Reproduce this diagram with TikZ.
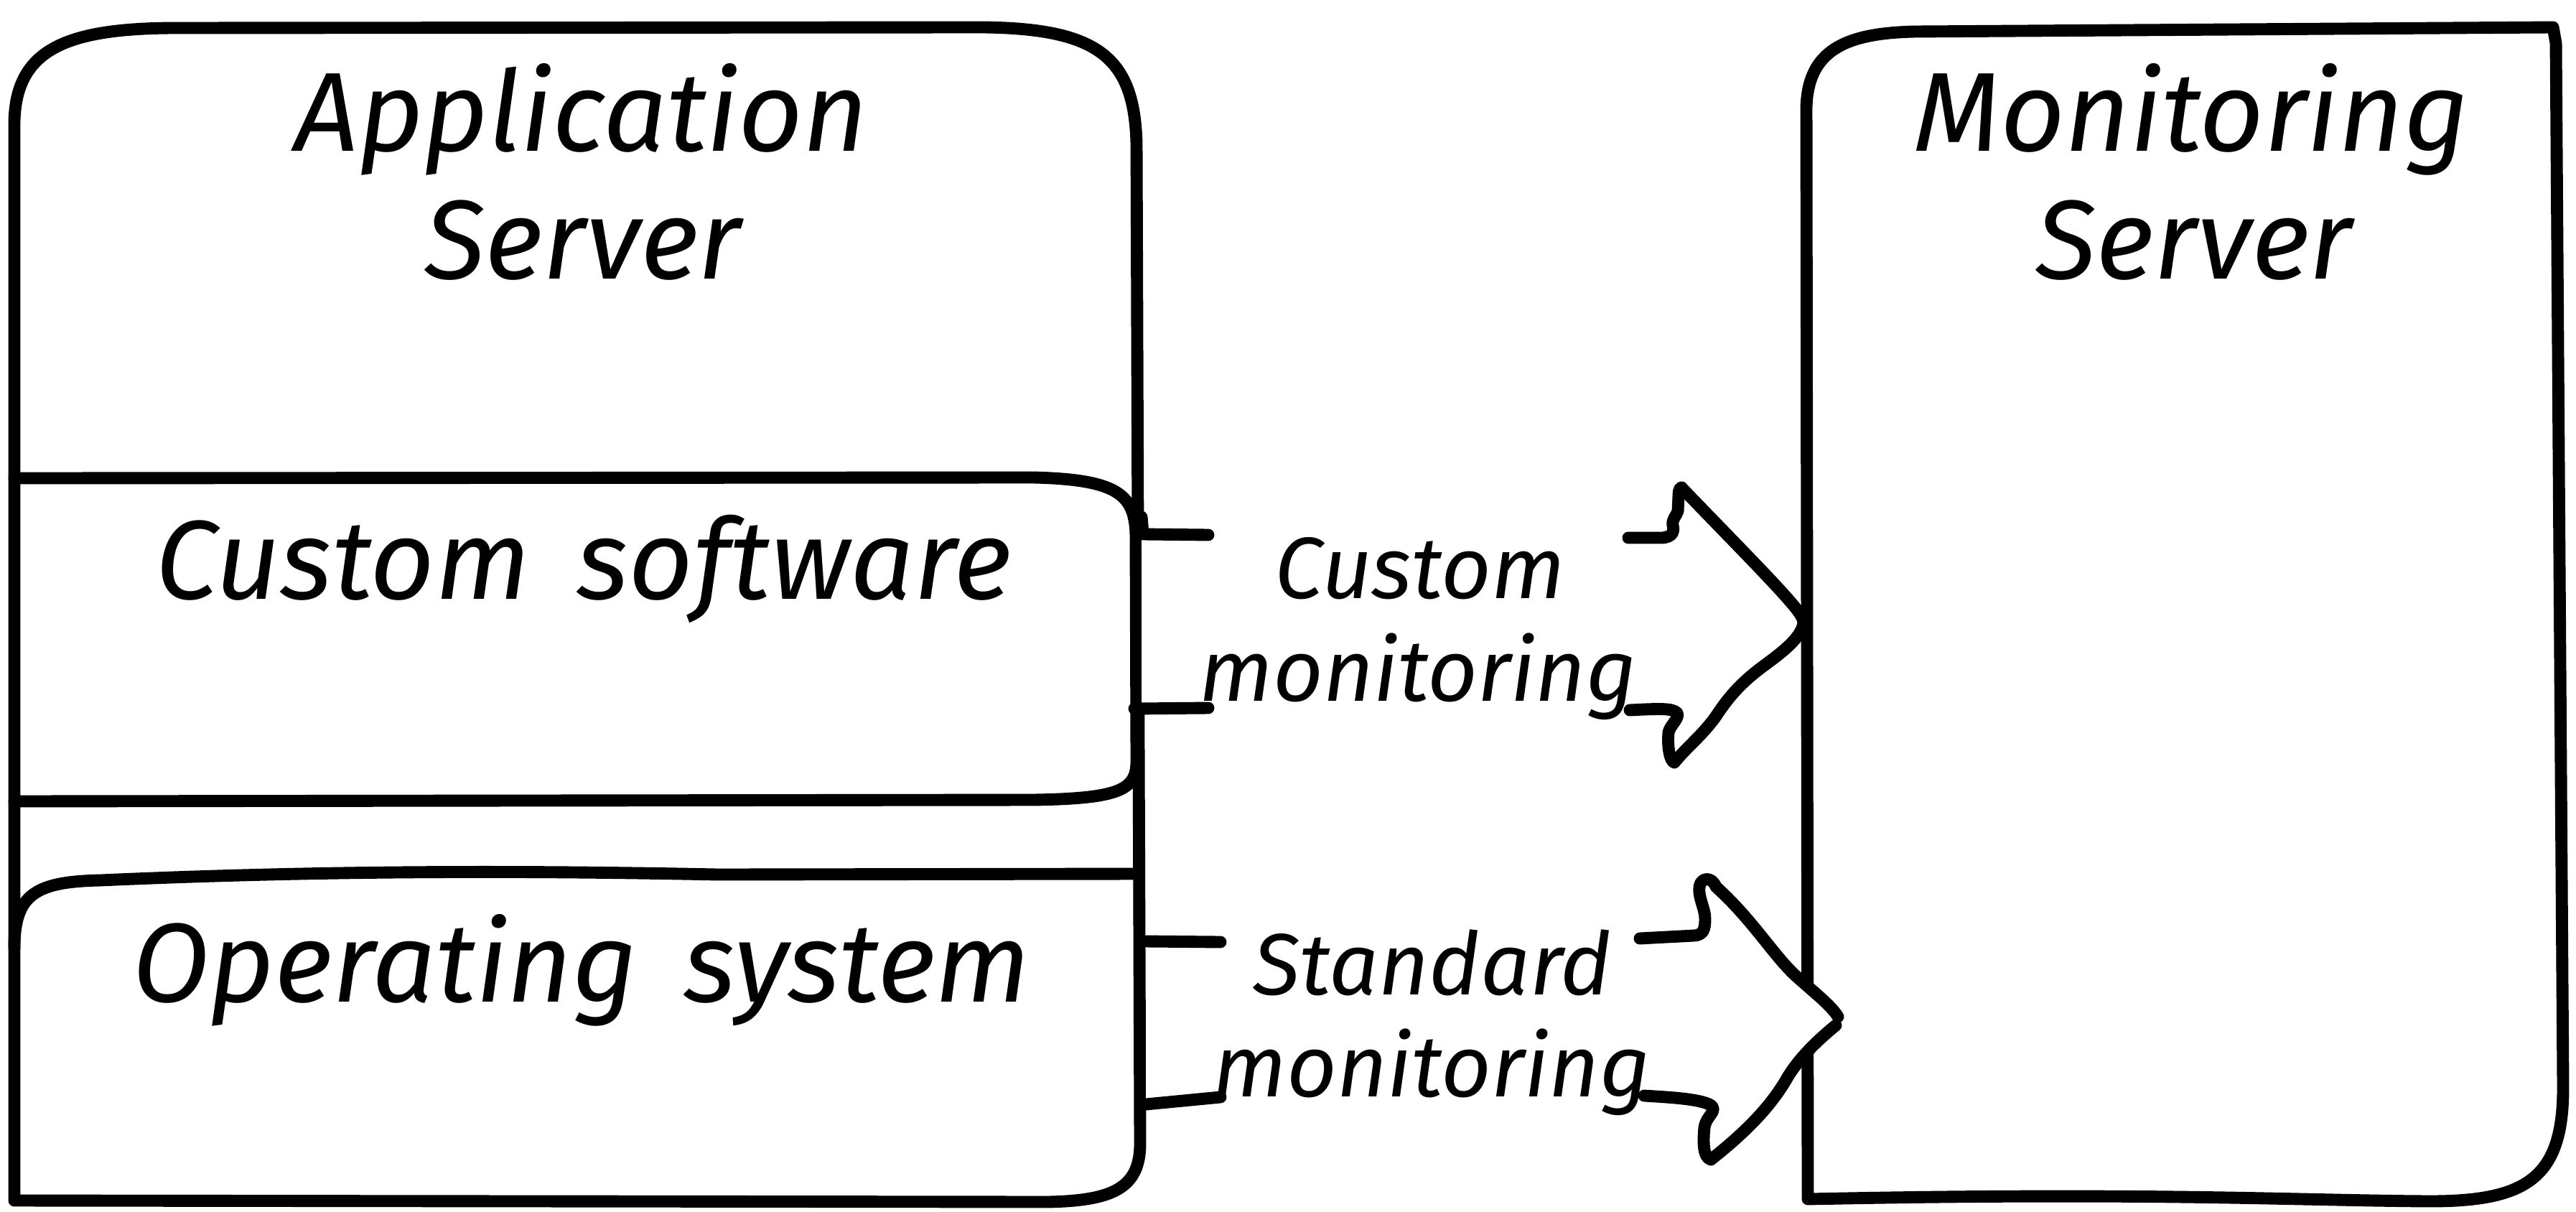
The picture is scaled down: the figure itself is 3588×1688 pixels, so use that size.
\documentclass[tikz,border=0pt]{standalone}
\usepackage{fontspec}
\newfontfamily\hand{Fira Sans}[WordSpace=1.6]
\begin{document}
\begin{tikzpicture}[x=0.01cm,y=-0.01cm]
\tikzset{
  ln/.style={line width=4.8pt, line cap=round, line join=round},
  bigtxt/.style={font=\hand\itshape\fontsize{44.5}{53}\selectfont, anchor=base, inner sep=0pt},
  smalltxt/.style={font=\hand\itshape\fontsize{34.5}{41}\selectfont, anchor=base, inner sep=0pt},
}
\useasboundingbox (0,0) rectangle (3588,1688);
\fill[white] (0,0) rectangle (3588,1688);

% Application server outer box
\draw[ln] (20,1672) -- (20,170) .. controls (22,70) and (90,40) .. (240,39)
  -- (1370,38) .. controls (1530,40) and (1580,80) .. (1583,200)
  -- (1588,1590) .. controls (1589,1655) and (1550,1672) .. (1460,1674) -- cycle;

% Custom software box
\draw[ln] (20,666) -- (1440,665) .. controls (1560,668) and (1582,690) .. (1582,750)
  -- (1583,1060) .. controls (1583,1100) and (1560,1112) .. (1440,1114) -- (20,1116);
\draw[ln] (1590,720) .. controls (1596,780) and (1592,860) .. (1598,895);

% Operating system box top
\draw[ln] (20,1320) .. controls (20,1245) and (50,1228) .. (140,1226)
  .. controls (500,1210) and (800,1214) .. (1000,1218) -- (1586,1217);

% Monitoring server box
\draw[ln] (2518,1670) -- (2516,150) .. controls (2518,70) and (2570,46) .. (2668,44)
  -- (3556,38) -- (3560,60) -- (3570,1515) .. controls (3570,1640) and (3520,1673) .. (3385,1673)
  .. controls (3200,1672) and (3000,1660) .. (2518,1670);

% Node labels
\node[bigtxt] (appA) at (810,210) {Application};
\node[bigtxt] (appB) at (812,388) {Server};
\node[bigtxt] (monA) at (3052,210) {Monitoring};
\node[bigtxt] (monB) at (3056,388) {Server};
\node[bigtxt] (cust) at (813,834) {Custom software};
\node[bigtxt] (os) at (810,1395) {Operating system};

% Arrow 1: custom monitoring
\fill[white] (1590,745) -- (2315,749) .. controls (2330,748) and (2332,740) .. (2330,732)
  .. controls (2328,724) and (2335,718) .. (2337,712) -- (2338,690)
  .. controls (2338,680) and (2342,676) .. (2344,681)
  .. controls (2420,760) and (2470,810) .. (2497,842) .. controls (2508,855) and (2512,862) .. (2512,868)
  .. controls (2508,890) and (2480,910) .. (2453,930) .. controls (2420,955) and (2405,975) .. (2389,999)
  .. controls (2370,1025) and (2350,1040) .. (2332,1062)
  .. controls (2326,1060) and (2322,1040) .. (2324,1020) .. controls (2326,1010) and (2340,1000) .. (2336,993)
  .. controls (2330,986) and (2310,987) .. (2262,989) -- (1590,987) -- cycle;
\draw[ln] (1592,744) -- (1683,745);
\draw[ln] (2268,749) -- (2315,749) .. controls (2330,748) and (2332,740) .. (2330,732)
  .. controls (2328,724) and (2335,718) .. (2337,712) -- (2338,690)
  .. controls (2338,680) and (2342,676) .. (2344,681)
  .. controls (2420,760) and (2470,810) .. (2497,842) .. controls (2508,855) and (2512,862) .. (2512,868)
  .. controls (2508,890) and (2480,910) .. (2453,930) .. controls (2420,955) and (2405,975) .. (2389,999)
  .. controls (2370,1025) and (2350,1040) .. (2332,1062)
  .. controls (2326,1060) and (2322,1040) .. (2324,1020) .. controls (2326,1010) and (2340,1000) .. (2336,993)
  .. controls (2330,986) and (2310,987) .. (2270,989);
\draw[ln] (1683,986) -- (1580,987);
\node[smalltxt] (cmA) at (1978,833) {Custom};
\node[smalltxt] (cmB) at (1975,976) {monitoring};

% Arrow 2: standard monitoring
\fill[white] (1596,1311) -- (2360,1303) .. controls (2372,1302) and (2375,1295) .. (2375,1280)
  .. controls (2375,1265) and (2365,1250) .. (2367,1235) .. controls (2369,1222) and (2384,1220) .. (2390,1235)
  .. controls (2440,1280) and (2470,1330) .. (2500,1358) .. controls (2530,1385) and (2550,1400) .. (2560,1416)
  -- (2557,1428) .. controls (2530,1450) and (2505,1475) .. (2490,1500) .. controls (2470,1535) and (2440,1570) .. (2383,1615)
  .. controls (2372,1612) and (2372,1590) .. (2374,1570) .. controls (2376,1555) and (2392,1548) .. (2384,1540)
  .. controls (2370,1530) and (2320,1528) .. (2281,1526) -- (1596,1538) -- cycle;
\draw[ln] (1596,1311) -- (1700,1312);
\draw[ln] (2284,1307) -- (2360,1303) .. controls (2372,1302) and (2375,1295) .. (2375,1280)
  .. controls (2375,1265) and (2365,1250) .. (2367,1235) .. controls (2369,1222) and (2384,1220) .. (2390,1235)
  .. controls (2440,1280) and (2470,1330) .. (2500,1358) .. controls (2530,1385) and (2550,1400) .. (2560,1416);
\draw[ln] (2557,1428) .. controls (2530,1450) and (2505,1475) .. (2490,1500) .. controls (2470,1535) and (2440,1570) .. (2383,1615)
  .. controls (2372,1612) and (2372,1590) .. (2374,1570) .. controls (2376,1555) and (2392,1548) .. (2384,1540)
  .. controls (2370,1530) and (2320,1528) .. (2290,1526);
\draw[ln] (1700,1528) -- (1596,1538);
\node[smalltxt] (smA) at (1995,1385) {Standard};
\node[smalltxt] (smB) at (1994,1527) {monitoring};
\end{tikzpicture}
\end{document}
